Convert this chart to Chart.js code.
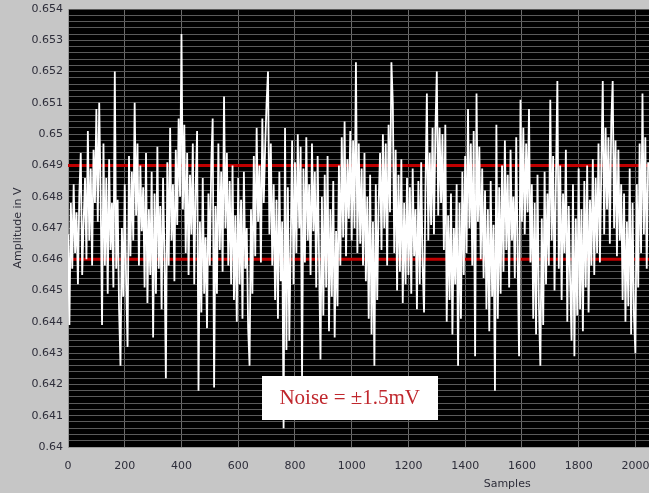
<!DOCTYPE html>
<html>
<head>
<meta charset="utf-8">
<script src="https://cdn.jsdelivr.net/npm/chart.js@4.4.1/dist/chart.umd.min.js"></script>
<style>
  html, body { margin: 0; padding: 0; background: #c6c6c6; }
  canvas { display: block; }
</style>
</head>
<body>
<canvas id="noise-chart" width="649" height="493"></canvas>
<script>
const SAMPLE_STEP = 5;
const amplitude = [
  0.6468, 0.6439, 0.6478, 0.6457, 0.6484, 0.6462, 0.6475, 0.6452, 0.6481, 0.6494, 0.6455, 0.6472, 0.6486, 0.6460, 0.6501, 0.6466, 0.6489, 0.6458, 0.6495, 0.6478,
  0.6508, 0.6472, 0.6510, 0.6481, 0.6439, 0.6497, 0.6458, 0.6486, 0.6449, 0.6492, 0.6463, 0.6478, 0.6451, 0.6520, 0.6457, 0.6479, 0.6444, 0.6426, 0.6470, 0.6448,
  0.6484, 0.6452, 0.6432, 0.6493, 0.6461, 0.6488, 0.6466, 0.6510, 0.6474, 0.6497, 0.6458, 0.6490, 0.6469, 0.6483, 0.6451, 0.6494, 0.6446, 0.6476, 0.6455, 0.6488,
  0.6435, 0.6481, 0.6449, 0.6496, 0.6457, 0.6477, 0.6444, 0.6486, 0.6462, 0.6422, 0.6491, 0.6458, 0.6502, 0.6466, 0.6484, 0.6453, 0.6495, 0.6471, 0.6505, 0.6480,
  0.6532, 0.6476, 0.6503, 0.6462, 0.6494, 0.6455, 0.6487, 0.6468, 0.6497, 0.6452, 0.6483, 0.6501, 0.6418, 0.6472, 0.6443, 0.6486, 0.6449, 0.6467, 0.6438, 0.6481,
  0.6458, 0.6491, 0.6505, 0.6419, 0.6477, 0.6449, 0.6497, 0.6463, 0.6488, 0.6456, 0.6512, 0.6470, 0.6494, 0.6458, 0.6485, 0.6452, 0.6490, 0.6447, 0.6474, 0.6440,
  0.6486, 0.6452, 0.6479, 0.6441, 0.6488, 0.6457, 0.6470, 0.6438, 0.6426, 0.6476, 0.6449, 0.6493, 0.6461, 0.6502, 0.6472, 0.6490, 0.6459, 0.6505, 0.6478, 0.6496,
  0.6510, 0.6520, 0.6468, 0.6497, 0.6458, 0.6484, 0.6447, 0.6479, 0.6441, 0.6488, 0.6453, 0.6472, 0.6406, 0.6502, 0.6431, 0.6483, 0.6434, 0.6465, 0.6498, 0.6452,
  0.6491, 0.6462, 0.6500, 0.6470, 0.6496, 0.6422, 0.6489, 0.6459, 0.6499, 0.6466, 0.6484, 0.6455, 0.6497, 0.6469, 0.6488, 0.6451, 0.6493, 0.6460, 0.6428, 0.6480,
  0.6442, 0.6487, 0.6451, 0.6493, 0.6437, 0.6476, 0.6448, 0.6485, 0.6435, 0.6469, 0.6445, 0.6490, 0.6458, 0.6499, 0.6467, 0.6504, 0.6461, 0.6492, 0.6473, 0.6501,
  0.6466, 0.6498, 0.6470, 0.6523, 0.6462, 0.6497, 0.6465, 0.6489, 0.6458, 0.6494, 0.6453, 0.6480, 0.6441, 0.6487, 0.6436, 0.6472, 0.6426, 0.6484, 0.6447, 0.6478,
  0.6494, 0.6463, 0.6500, 0.6470, 0.6497, 0.6458, 0.6503, 0.6475, 0.6523, 0.6510, 0.6462, 0.6495, 0.6450, 0.6487, 0.6456, 0.6492, 0.6446, 0.6478, 0.6452, 0.6486,
  0.6455, 0.6483, 0.6449, 0.6489, 0.6461, 0.6476, 0.6444, 0.6485, 0.6452, 0.6491, 0.6458, 0.6443, 0.6482, 0.6513, 0.6466, 0.6494, 0.6471, 0.6502, 0.6468, 0.6501,
  0.6520, 0.6474, 0.6502, 0.6478, 0.6500, 0.6463, 0.6503, 0.6440, 0.6474, 0.6447, 0.6481, 0.6436, 0.6470, 0.6452, 0.6484, 0.6426, 0.6478, 0.6441, 0.6488, 0.6455,
  0.6493, 0.6462, 0.6508, 0.6470, 0.6497, 0.6458, 0.6501, 0.6429, 0.6513, 0.6472, 0.6496, 0.6460, 0.6489, 0.6454, 0.6482, 0.6444, 0.6476, 0.6437, 0.6485, 0.6448,
  0.6471, 0.6418, 0.6503, 0.6441, 0.6483, 0.6449, 0.6490, 0.6456, 0.6498, 0.6463, 0.6487, 0.6451, 0.6495, 0.6466, 0.6480, 0.6454, 0.6499, 0.6460, 0.6429, 0.6511,
  0.6472, 0.6502, 0.6468, 0.6497, 0.6475, 0.6508, 0.6459, 0.6484, 0.6441, 0.6478, 0.6436, 0.6487, 0.6445, 0.6426, 0.6473, 0.6439, 0.6488, 0.6452, 0.6481, 0.6458,
  0.6511, 0.6466, 0.6493, 0.6450, 0.6486, 0.6517, 0.6457, 0.6490, 0.6447, 0.6481, 0.6462, 0.6495, 0.6440, 0.6477, 0.6453, 0.6434, 0.6484, 0.6429, 0.6473, 0.6442,
  0.6489, 0.6444, 0.6476, 0.6437, 0.6485, 0.6451, 0.6490, 0.6443, 0.6479, 0.6458, 0.6492, 0.6455, 0.6486, 0.6462, 0.6497, 0.6459, 0.6490, 0.6517, 0.6468, 0.6502,
  0.6476, 0.6499, 0.6465, 0.6504, 0.6517, 0.6470, 0.6498, 0.6461, 0.6495, 0.6466, 0.6484, 0.6447, 0.6481, 0.6440, 0.6472, 0.6445, 0.6489, 0.6436, 0.6478, 0.6442,
  0.6430, 0.6484, 0.6451, 0.6497, 0.6462, 0.6513, 0.6468, 0.6499, 0.6457, 0.6491
];
const sampleIndex = amplitude.map((_, i) => i * SAMPLE_STEP);

// Noise band limits (red lines) and annotation
const bandLimits = [0.649, 0.646];
const noiseLabel = "Noise = \u00b11.5mV";

// Axis ranges
const X_MIN = 0, X_MAX = 2048, X_STEP = 200;
const Y_MIN = 0.640, Y_MAX = 0.654, Y_STEP = 0.0002;

const AXIS_FONT = { family: "DejaVu Sans", size: 11 };
const AXIS_COLOR = "#2e2e3a";

// Gray panel + black plot area, label box and custom x title
const scopePlugin = {
    id: "scope",
    beforeDraw(chart) {
        const { ctx, chartArea: a } = chart;
        ctx.save();
        ctx.fillStyle = "#c6c6c6";
        ctx.fillRect(0, 0, chart.width, chart.height);
        ctx.fillStyle = "#000000";
        ctx.fillRect(a.left, a.top, a.right - a.left, a.bottom - a.top);
        ctx.restore();
    },
    afterDatasetsDraw(chart) {
        const { ctx } = chart;
        const xs = chart.scales.x;
        const ys = chart.scales.y;
        ctx.save();
        // annotation box
        const cx = xs.getPixelForValue(993);
        const cy = ys.getPixelForValue(0.64158);
        const w = 176, h = 44;
        ctx.fillStyle = "#ffffff";
        ctx.fillRect(Math.round(cx - w / 2), Math.round(cy - h / 2), w, h);
        ctx.fillStyle = "#c0272d";
        ctx.font = "21px 'Liberation Serif'";
        ctx.textAlign = "center";
        ctx.textBaseline = "middle";
        ctx.fillText(noiseLabel, cx, cy + 1);
        // x axis title (sits off-centre in the cropped original)
        ctx.fillStyle = AXIS_COLOR;
        ctx.font = "11px 'DejaVu Sans'";
        ctx.fillText("Samples", xs.getPixelForValue(1548), 484);
        ctx.restore();
    }
};

function initChart() {
    const ctx = document.getElementById("noise-chart");

    const trace = amplitude.map((v, i) => ({ x: sampleIndex[i], y: v }));
    const limitSets = bandLimits.map(level => ({
        data: [{ x: X_MIN, y: level }, { x: X_MAX, y: level }],
        borderColor: "#c00000",
        borderWidth: 3,
        pointRadius: 0
    }));

    new Chart(ctx, {
        type: "line",
        data: {
            datasets: [
                {
                    label: "Amplitude",
                    data: trace,
                    borderColor: "#ffffff",
                    borderWidth: 1.8,
                    pointRadius: 0,
                    tension: 0
                },
                ...limitSets
            ]
        },
        options: {
            responsive: false,
            animation: false,
            devicePixelRatio: 1,
            layout: { padding: { top: 9, left: 12, right: 0, bottom: 0 } },
            plugins: {
                legend: { display: false },
                tooltip: { enabled: false }
            },
            scales: {
                x: {
                    type: "linear",
                    min: X_MIN,
                    max: X_MAX,
                    grid: { color: "#6a6a6a", drawTicks: false },
                    border: { color: "#9a9a9a" },
                    ticks: {
                        stepSize: X_STEP,
                        includeBounds: false,
                        padding: 13,
                        color: AXIS_COLOR,
                        font: AXIS_FONT,
                        maxRotation: 0,
                        autoSkip: false,
                        callback: value => String(value)
                    },
                    afterFit(scale) {
                        scale.height = 46;
                        scale.paddingLeft = 0;
                        scale.paddingRight = 0;
                    }
                },
                y: {
                    min: Y_MIN,
                    max: Y_MAX,
                    grid: { color: "#5a5a5a", drawTicks: false },
                    border: { color: "#9a9a9a" },
                    ticks: {
                        stepSize: Y_STEP,
                        padding: 5,
                        color: AXIS_COLOR,
                        font: AXIS_FONT,
                        autoSkip: false,
                        callback: function(value) {
                            const m = Math.round(value * 10000);
                            if (m % 10 !== 0) return "";
                            return String(+(m / 10000).toFixed(3));
                        }
                    },
                    title: {
                        display: true,
                        text: "Amplitude in V",
                        color: AXIS_COLOR,
                        font: AXIS_FONT,
                        padding: 0
                    },
                    afterFit(scale) {
                        scale.width = 56;
                        scale.paddingTop = 0;
                        scale.paddingBottom = 0;
                    }
                }
            }
        },
        plugins: [scopePlugin]
    });
}

document.addEventListener("DOMContentLoaded", initChart);
</script>
</body>
</html>
